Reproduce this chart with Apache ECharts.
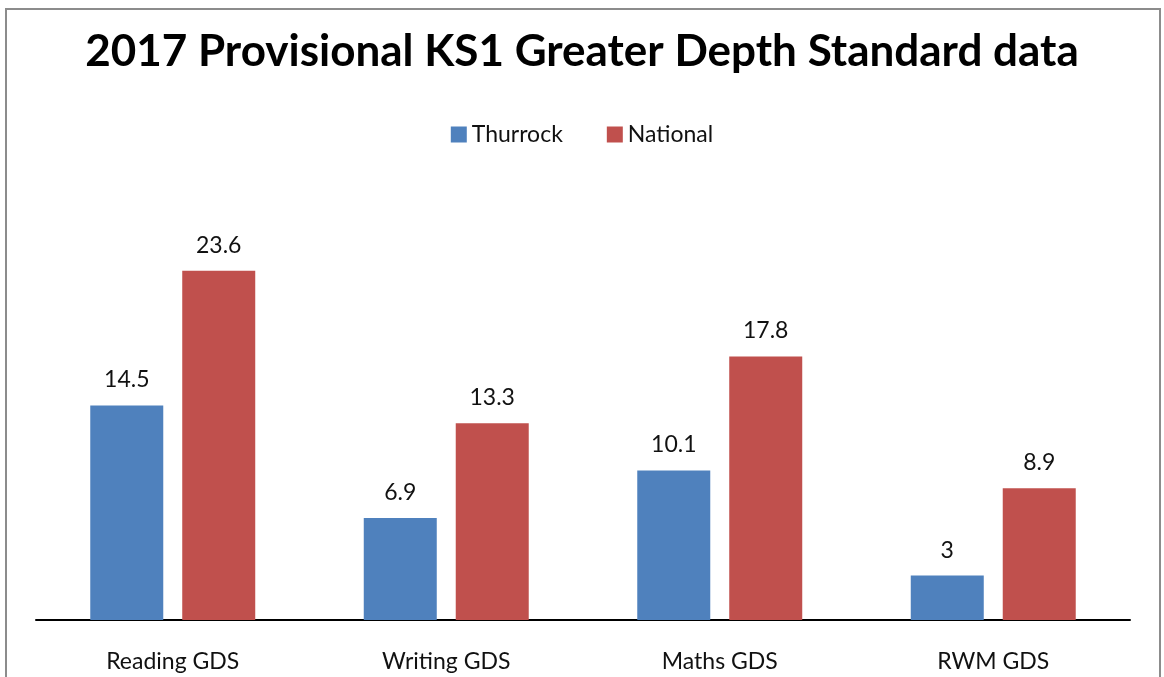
<!DOCTYPE html>
<html>
<head>
<meta charset="utf-8">
<script src="https://cdn.jsdelivr.net/npm/echarts@6/dist/echarts.min.js"></script>
<style>
  html, body { margin: 0; padding: 0; background: #fff; }
  #chart { width: 1164px; height: 677px; }
</style>
</head>
<body>
<div id="chart"></div>
<script>
// KS1 greater depth standard, 2017 provisional
var categories = ['Reading GDS', 'Writing GDS', 'Maths GDS', 'RWM GDS']
var thurrock = [14.5, 6.9, 10.1, 3]
var national = [23.6, 13.3, 17.8, 8.9]

var font = 'Lato, "Open Sans", sans-serif'

var chart = echarts.init(document.getElementById('chart'))
var option = {
  animation: false,
  title: {
    text: '2017 Provisional KS1 Greater Depth Standard data',
    left: 'center',
    top: 25,
    textStyle: {
      fontFamily: font,
      fontWeight: 'bold',
      fontSize: 44,
      color: '#000'
    }
  },
  legend: {
    data: ['Thurrock', 'National'],
    top: 118,
    left: 'center',
    itemWidth: 16,
    itemHeight: 16,
    itemGap: 44,
    icon: 'rect',
    textStyle: { fontFamily: font, fontSize: 23, color: '#111' }
  },
  graphic: [{
    type: 'rect',
    shape: { x: 6, y: 9, width: 1154, height: 700 },
    style: { fill: 'none', stroke: '#8c8c8c', lineWidth: 2 },
    silent: true
  }],
  grid: { left: 36, right: 34, top: 250, bottom: 57 },
  xAxis: {
    type: 'category',
    data: categories,
    axisLine: { lineStyle: { color: '#000', width: 2 } },
    axisTick: { show: false },
    axisLabel: { margin: 30, fontFamily: font, fontSize: 23, color: '#111' }
  },
  yAxis: {
    type: 'value',
    min: 0,
    max: 25,
    show: false,
    splitLine: { show: false }
  },
  series: [
    {
      name: 'Thurrock',
      type: 'bar',
      data: thurrock,
      barWidth: 73,
      barGap: '26%',
      itemStyle: { color: '#4F81BD' },
      label: { show: true, position: 'top', distance: 14, fontFamily: font, fontSize: 23, color: '#111' }
    },
    {
      name: 'National',
      type: 'bar',
      data: national,
      barWidth: 73,
      barGap: '26%',
      itemStyle: { color: '#C0504D' },
      label: { show: true, position: 'top', distance: 14, fontFamily: font, fontSize: 23, color: '#111' }
    }
  ]
}
chart.setOption(option)
</script>
</body>
</html>
